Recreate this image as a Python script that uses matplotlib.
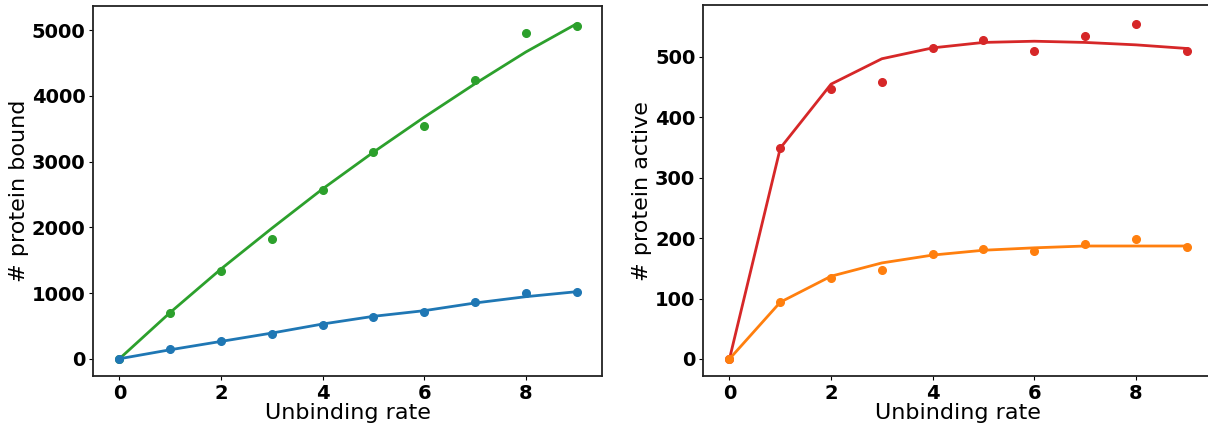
import matplotlib.pyplot as plt

# unbinding rate sweep
rates = [0, 1, 2, 3, 4, 5, 6, 7, 8, 9]

# simulated counts (dots) and smoothed fits (lines)
bound_high = [0, 700, 1330, 1825, 2570, 3145, 3540, 4250, 4960, 5060]
bound_high_fit = [0, 705, 1367, 1986, 2586, 3145, 3678, 4187, 4670, 5100]
bound_low = [0, 147, 274, 376, 518, 640, 716, 858, 996, 1021]
bound_low_fit = [0, 137, 264, 391, 529, 646, 732, 849, 945, 1021]

active_high = [0, 349, 447, 459, 515, 528, 509, 534, 554, 509]
active_high_fit = [0, 349, 455, 497, 515, 524, 526, 524, 520, 514]
active_low = [0, 94, 134, 147, 173, 182, 179, 190, 199, 185]
active_low_fit = [0, 94, 137, 159, 172, 180, 184, 187, 187, 187]

x_ticks = [0, 2, 4, 6, 8]


def style_axis(ax, ylabel):
    ax.set_xlabel("Unbinding rate", fontsize=16, labelpad=0)
    ax.set_ylabel(ylabel, fontsize=16, labelpad=2)
    ax.set_xticks(x_ticks)
    ax.tick_params(axis="both", labelsize=14, direction="out", length=3, width=0.8, pad=2.5)
    for label in ax.get_xticklabels() + ax.get_yticklabels():
        label.set_fontweight("bold")
    for spine in ax.spines.values():
        spine.set_linewidth(1.3)
        spine.set_color("#222222")


fig = plt.figure(figsize=(12.08, 4.29), dpi=100)
ax1 = fig.add_axes([0.0770, 0.1224, 0.4214, 0.8636])
ax2 = fig.add_axes([0.5820, 0.1224, 0.4214, 0.8660])

ax1.plot(rates, bound_high_fit, color="tab:green", lw=2.0)
ax1.plot(rates, bound_high, "o", color="tab:green", ms=5.5)
ax1.plot(rates, bound_low_fit, color="tab:blue", lw=2.0)
ax1.plot(rates, bound_low, "o", color="tab:blue", ms=5.5)
ax1.set_xlim(-0.52, 9.5)
ax1.set_ylim(-270, 5370)
style_axis(ax1, "# protein bound")

ax2.plot(rates, active_high_fit, color="tab:red", lw=2.0)
ax2.plot(rates, active_high, "o", color="tab:red", ms=5.5)
ax2.plot(rates, active_low_fit, color="tab:orange", lw=2.0)
ax2.plot(rates, active_low, "o", color="tab:orange", ms=5.5)
ax2.set_xlim(-0.52, 9.5)
ax2.set_ylim(-29, 586)
style_axis(ax2, "# protein active")

fig.savefig("out.png", dpi=100)
